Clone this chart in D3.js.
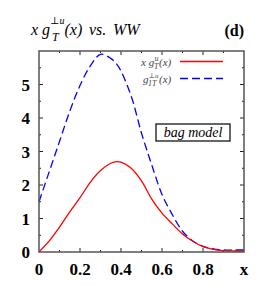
<!DOCTYPE html>
<html>
<head>
<meta charset="utf-8">
<script src="https://cdn.jsdelivr.net/npm/d3@7"></script>
<style>
  body { margin: 0; background: #fff; }
  svg { display: block; }
</style>
</head>
<body>
<svg id="chart"></svg>
<script>
// values
let xVals = [0, 0.05, 0.1, 0.15, 0.2, 0.25, 0.3, 0.35, 0.38, 0.4, 0.45, 0.5, 0.55, 0.6, 0.65, 0.7, 0.75, 0.8, 0.85, 0.9, 0.95, 1.0];
let xgT = [0, 0.33, 0.74, 1.2, 1.62, 2.08, 2.43, 2.65, 2.70, 2.68, 2.50, 2.12, 1.58, 1.16, 0.84, 0.54, 0.32, 0.16, 0.08, 0.04, 0.03, 0.03];
let g1T = [1.5, 2.4, 3.3, 4.2, 4.97, 5.55, 5.9, 5.78, 5.6, 5.4, 4.65, 3.55, 2.6, 1.72, 1.12, 0.62, 0.33, 0.17, 0.09, 0.06, 0.06, 0.06];
let xTicks = [0, 0.2, 0.4, 0.6, 0.8, 1.0];
let xTickLabels = ["0", "0.2", "0.4", "0.6", "0.8", "x"];
let yTicks = [0, 1, 2, 3, 4, 5];

var svgWidth = 273, svgHeight = 286;
var margin = { top: 51, right: 29, bottom: 34, left: 39 };
var width = svgWidth - margin.left - margin.right;
var height = svgHeight - margin.top - margin.bottom;

var svg = d3.select('#chart')
  .attr("width", svgWidth)
  .attr("height", svgHeight);

var g = svg.append("g")
  .attr("transform", "translate(" + margin.left + "," + margin.top + ")");

var x = d3.scaleLinear().domain([0, 1]).range([0, width]);
var y = d3.scaleLinear().domain([0, 6]).range([height, 0]);

var serif = "'Liberation Serif', 'DejaVu Serif', serif";
var frameColor = "#555";

//minor and major ticks on all four sides, pointing inward
function tickMarks(vals, len, side) {
  vals.forEach(function(v) {
    if (side == "bottom") g.append("line").attr("x1", x(v)).attr("x2", x(v)).attr("y1", height).attr("y2", height - len);
    if (side == "top") g.append("line").attr("x1", x(v)).attr("x2", x(v)).attr("y1", 0).attr("y2", len);
    if (side == "left") g.append("line").attr("x1", 0).attr("x2", len).attr("y1", y(v)).attr("y2", y(v));
    if (side == "right") g.append("line").attr("x1", width).attr("x2", width - len).attr("y1", y(v)).attr("y2", y(v));
  });
}
var xMinor = d3.range(0.1, 1, 0.2);
var yMinor = d3.range(0.5, 6, 1);
["bottom", "top"].forEach(function(s) { tickMarks(xTicks.slice(1, -1), 4, s); tickMarks(xMinor, 2, s); });
["left", "right"].forEach(function(s) { tickMarks(yTicks.slice(1), 4, s); tickMarks(yMinor, 2, s); });
g.selectAll("line").attr("stroke", "#222").attr("stroke-width", 1);

//curves
var line = d3.line()
  .x(function(d) { return x(d[0]); })
  .y(function(d) { return y(d[1]); })
  .curve(d3.curveCatmullRom);

g.append("path")
  .datum(xVals.map(function(v, i) { return [v, g1T[i]]; }))
  .attr("fill", "none")
  .attr("stroke", "#0000ff")
  .attr("stroke-width", 1.3)
  .attr("stroke-dasharray", "8,4")
  .attr("d", line);

g.append("path")
  .datum(xVals.map(function(v, i) { return [v, xgT[i]]; }))
  .attr("fill", "none")
  .attr("stroke", "#ff0000")
  .attr("stroke-width", 1.3)
  .attr("d", line);

//frame
g.append("rect")
  .attr("width", width).attr("height", height)
  .attr("fill", "none").attr("stroke", frameColor).attr("stroke-width", 1.5);

//tick labels
g.selectAll(".xlab").data(xTicks).enter().append("text")
  .attr("x", function(d) { return x(d); })
  .attr("y", height + 23)
  .attr("text-anchor", "middle")
  .attr("font-family", serif).attr("font-weight", "bold").attr("font-size", 17)
  .text(function(d, i) { return xTickLabels[i]; });

g.selectAll(".ylab").data(yTicks).enter().append("text")
  .attr("x", -9)
  .attr("y", function(d) { return y(d) + 6; })
  .attr("text-anchor", "end")
  .attr("font-family", serif).attr("font-weight", "bold").attr("font-size", 17)
  .text(function(d) { return d; });

//small helper for placed italic text pieces
function put(txt, px, py, size, color) {
  return svg.append("text")
    .attr("x", px).attr("y", py)
    .attr("font-family", serif).attr("font-style", "italic").attr("font-size", size)
    .attr("fill", color || "#000")
    .text(txt);
}

//title
put("x g", 31, 35, 16);
put("\u22a5u", 50, 24, 10);
put("T", 52, 41, 12);
put("(x)", 64.5, 35, 16);
put("vs.", 89, 35, 16);
put("WW", 113, 35, 16);

svg.append("text")
  .attr("x", 244).attr("y", 36)
  .attr("text-anchor", "end")
  .attr("font-family", serif).attr("font-weight", "bold").attr("font-size", 16)
  .text("(d)");

//legend
var legCol = "#444";
put("x g", 141, 66, 11, legCol);
put("u", 154.5, 61, 8, legCol);
put("T", 154, 69, 8, legCol);
put("(x)", 159, 66, 11, legCol);

put("g", 143, 83, 11, legCol);
put("\u22a5u", 148.5, 78, 7, legCol);
put("1T", 148, 86, 8, legCol);
put("(x)", 159, 83, 11, legCol);

svg.append("line").attr("x1", 180).attr("x2", 223).attr("y1", 61.5).attr("y2", 61.5)
  .attr("stroke", "#ff0000").attr("stroke-width", 1.3);
svg.append("line").attr("x1", 180).attr("x2", 223).attr("y1", 78.5).attr("y2", 78.5)
  .attr("stroke", "#0000ff").attr("stroke-width", 1.3).attr("stroke-dasharray", "8,4");

//bag model box
svg.append("rect")
  .attr("x", 156).attr("y", 124).attr("width", 74).attr("height", 17)
  .attr("fill", "#fff").attr("stroke", "#000").attr("stroke-width", 1.2);
svg.append("text")
  .attr("x", 193).attr("y", 137)
  .attr("text-anchor", "middle")
  .attr("font-family", serif).attr("font-style", "italic").attr("font-size", 14)
  .text("bag model");
</script>
</body>
</html>
